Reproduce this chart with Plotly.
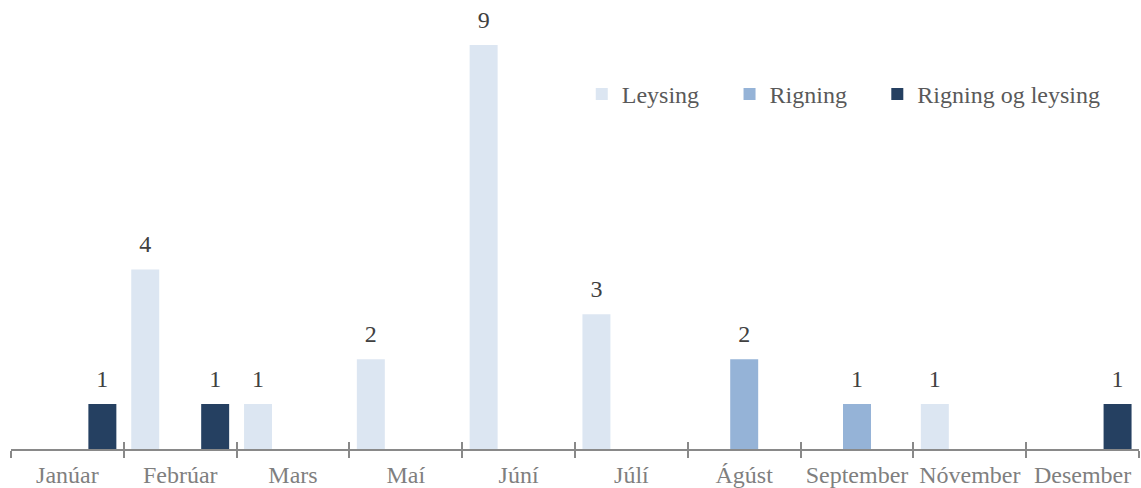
import plotly.graph_objects as go

months = ["Janúar", "Febrúar", "Mars", "Maí", "Júní", "Júlí", "Ágúst",
          "September", "Nóvember", "Desember"]
leysing = [None, 4, 1, 2, 9, 3, None, None, 1, None]
rigning = [None, None, None, None, None, None, 2, 1, None, None]
rigning_og_leysing = [1, 1, None, None, None, None, None, None, None, 1]

# name, values, colour, legend id, legend x (plot fraction)
series = [
    ("Leysing", leysing, "#DCE6F2", "legend", 0.506),
    ("Rigning", rigning, "#95B3D7", "legend2", 0.637),
    ("Rigning og leysing", rigning_og_leysing, "#254061", "legend3", 0.768),
]

FONT = "Liberation Serif, Times New Roman, serif"
FS = 24
LABEL_PAD = 0.2  # extra gap (in y units) between bar top and its value label

fig = go.Figure()
legends = {}
for i, (name, vals, color, leg, lx) in enumerate(series):
    fig.add_trace(go.Bar(
        name=name,
        x=months,
        y=vals,
        legend=leg,
        offsetgroup=str(i),
        marker=dict(color=color, line=dict(width=0)),
    ))
    # transparent spacer bar sitting on top, carrying the value label
    fig.add_trace(go.Bar(
        x=months,
        y=[LABEL_PAD if v else None for v in vals],
        base=vals,
        offsetgroup=str(i),
        showlegend=False,
        hoverinfo="skip",
        marker=dict(color="rgba(0,0,0,0)", line=dict(width=0)),
        text=[v if v else "" for v in vals],
        textposition="outside",
        textfont=dict(family=FONT, size=FS, color="#404040"),
        cliponaxis=False,
    ))
    legends[leg] = dict(
        orientation="h",
        x=lx, y=0.79, xanchor="left", yanchor="middle",
        font=dict(family=FONT, size=FS, color="#595959"),
        bgcolor="rgba(0,0,0,0)",
    )

# invisible trace so the overlay axis (upper half of the tick marks) exists
fig.add_trace(go.Scatter(x=months, y=[0] * len(months), xaxis="x2",
                         mode="markers", marker=dict(opacity=0),
                         showlegend=False, hoverinfo="skip"))

fig.update_layout(
    width=1141,
    height=488,
    margin=dict(l=11, r=2, t=0, b=39),
    barmode="group",
    bargap=0.07,
    bargroupgap=0.2,
    plot_bgcolor="white",
    paper_bgcolor="white",
    font=dict(family=FONT, size=FS, color="#595959"),
    showlegend=True,
    **legends,
    xaxis=dict(
        type="category",
        categoryarray=months,
        range=[-0.5, 9.5],
        showline=True, linecolor="#898989", linewidth=1.5,
        ticks="outside", tickson="boundaries", ticklen=7,
        tickcolor="#898989", tickwidth=1.5,
        showgrid=False, zeroline=False,
        automargin=False,
        ticklabelstandoff=3,
        tickfont=dict(family=FONT, size=FS, color="#7F7F7F"),
    ),
    xaxis2=dict(
        type="category",
        categoryarray=months,
        range=[-0.5, 9.5],
        overlaying="x",
        anchor="y",
        side="bottom",
        ticks="inside", tickson="boundaries", ticklen=7,
        tickcolor="#898989", tickwidth=1.5,
        showticklabels=False, showgrid=False, showline=False, zeroline=False,
    ),
    yaxis=dict(range=[0, 10], visible=False),
)

fig.write_html("out.html", config={"displayModeBar": False},
               post_script="document.body.style.margin='0';")
